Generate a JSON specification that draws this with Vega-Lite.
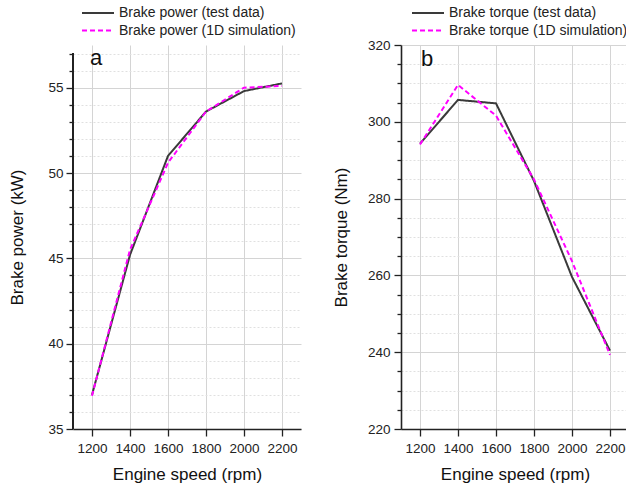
{
  "$schema": "https://vega.github.io/schema/vega-lite/v6.json",
  "padding": {"left": 8, "top": 4, "right": 0, "bottom": 0},
  "spacing": 31,
  "config": {
    "font": "Liberation Sans",
    "view": {"stroke": null},
    "axis": {
      "domainColor": "#222222",
      "domainWidth": 1.6,
      "tickColor": "#222222",
      "tickWidth": 1.3,
      "labelFontSize": 13.5,
      "labelColor": "#222222",
      "titleFontSize": 17,
      "titleFontWeight": "normal",
      "titleColor": "#111111",
      "labelOverlap": false,
      "labelBound": false,
      "labelFlush": false,
      "gridColor": "#d4d4d4",
      "gridWidth": 1,
      "tickCount": 100
    },
    "legend": {
      "labelFontSize": 14,
      "labelColor": "#222222",
      "labelLimit": 400,
      "symbolType": "stroke",
      "symbolStrokeWidth": 2,
      "symbolSize": 1024,
      "rowPadding": 0.5,
      "clipHeight": 17,
      "labelOffset": 4
    }
  },
  "hconcat": [
    {
      "width": 228,
      "height": 384,
      "data": {"values": [
        {"rpm": 1200, "value": 37.0, "series": "Brake power (test data)"},
        {"rpm": 1400, "value": 45.2, "series": "Brake power (test data)"},
        {"rpm": 1600, "value": 51.0, "series": "Brake power (test data)"},
        {"rpm": 1800, "value": 53.6, "series": "Brake power (test data)"},
        {"rpm": 2000, "value": 54.8, "series": "Brake power (test data)"},
        {"rpm": 2200, "value": 55.25, "series": "Brake power (test data)"},
        {"rpm": 1200, "value": 36.95, "series": "Brake power (1D simulation)"},
        {"rpm": 1400, "value": 45.5, "series": "Brake power (1D simulation)"},
        {"rpm": 1600, "value": 50.6, "series": "Brake power (1D simulation)"},
        {"rpm": 1800, "value": 53.6, "series": "Brake power (1D simulation)"},
        {"rpm": 2000, "value": 55.0, "series": "Brake power (1D simulation)"},
        {"rpm": 2200, "value": 55.1, "series": "Brake power (1D simulation)"}
      ]},
      "layer": [
        {
          "mark": {"type": "line", "strokeWidth": 2},
          "encoding": {
            "x": {"field": "rpm", "type": "quantitative",
              "scale": {"domain": [1100, 2300], "nice": false, "zero": false},
              "axis": {"values": [1200, 1400, 1600, 1800, 2000, 2200], "title": "Engine speed (rpm)", "tickSize": 7, "labelPadding": 5, "titlePadding": 12, "format": "d"}},
            "y": {"field": "value", "type": "quantitative",
              "scale": {"domain": [35, 57.5], "nice": false, "zero": false},
              "axis": {
                "values": [35,36,37,38,39,40,41,42,43,44,45,46,47,48,49,50,51,52,53,54,55,56,57],
                "format": "d",
                "domain": false,
                "title": "Brake power (kW)",
                "labelExpr": "datum.value % 5 === 0 ? datum.label : ''",
                "tickSize": {"condition": {"test": "datum.value % 5 === 0", "value": 7}, "value": 4},
                "gridDash": {"condition": {"test": "datum.value % 5 === 0", "value": []}, "value": [2, 2]},
                "gridColor": {"condition": {"test": "datum.value % 5 === 0", "value": "#d4d4d4"}, "value": "#e0e0e0"},
                "labelPadding": 3,
                "titlePadding": 21
              }},
            "color": {"field": "series", "type": "nominal",
              "scale": {"domain": ["Brake power (test data)", "Brake power (1D simulation)"], "range": ["#3a3a3a", "#ff00ff"]},
              "legend": {"title": null, "orient": "none", "legendX": 8, "legendY": -40.5}},
            "strokeDash": {"field": "series", "type": "nominal",
              "scale": {"domain": ["Brake power (test data)", "Brake power (1D simulation)"], "range": [[1, 0], [5, 3]]},
              "legend": {"title": null, "orient": "none", "legendX": 8, "legendY": -40.5}}
          }
        },
        {
          "mark": {"type": "rule", "color": "#222222", "strokeWidth": 1.6},
          "encoding": {
            "x": {"datum": 1100, "type": "quantitative"},
            "y": {"datum": 35, "type": "quantitative"},
            "y2": {"datum": 57}
          }
        },
        {
          "data": {"values": [{"label": "a"}]},
          "mark": {"type": "text", "fontSize": 22, "align": "left", "baseline": "alphabetic", "color": "#111111"},
          "encoding": {
            "x": {"datum": 1190, "type": "quantitative"},
            "y": {"datum": 56.35, "type": "quantitative"},
            "text": {"field": "label"}
          }
        }
      ]
    },
    {
      "width": 228,
      "height": 384,
      "data": {"values": [
        {"rpm": 1200, "value": 294.3, "series": "Brake torque (test data)"},
        {"rpm": 1400, "value": 305.7, "series": "Brake torque (test data)"},
        {"rpm": 1600, "value": 304.8, "series": "Brake torque (test data)"},
        {"rpm": 1800, "value": 284.6, "series": "Brake torque (test data)"},
        {"rpm": 2000, "value": 259.6, "series": "Brake torque (test data)"},
        {"rpm": 2200, "value": 240.4, "series": "Brake torque (test data)"},
        {"rpm": 1200, "value": 294.1, "series": "Brake torque (1D simulation)"},
        {"rpm": 1400, "value": 309.6, "series": "Brake torque (1D simulation)"},
        {"rpm": 1600, "value": 301.6, "series": "Brake torque (1D simulation)"},
        {"rpm": 1800, "value": 285.0, "series": "Brake torque (1D simulation)"},
        {"rpm": 2000, "value": 263.7, "series": "Brake torque (1D simulation)"},
        {"rpm": 2200, "value": 239.3, "series": "Brake torque (1D simulation)"}
      ]},
      "layer": [
        {
          "mark": {"type": "line", "strokeWidth": 2},
          "encoding": {
            "x": {"field": "rpm", "type": "quantitative",
              "scale": {"domain": [1100, 2300], "nice": false, "zero": false},
              "axis": {"values": [1200, 1400, 1600, 1800, 2000, 2200], "title": "Engine speed (rpm)", "tickSize": 7, "labelPadding": 5, "titlePadding": 12, "format": "d"}},
            "y": {"field": "value", "type": "quantitative",
              "scale": {"domain": [220, 320], "nice": false, "zero": false},
              "axis": {
                "values": [220,225,230,235,240,245,250,255,260,265,270,275,280,285,290,295,300,305,310,315,320],
                "format": "d",
                "title": "Brake torque (Nm)",
                "labelExpr": "datum.value % 20 === 0 ? datum.label : ''",
                "tickSize": {"condition": {"test": "datum.value % 20 === 0", "value": 7}, "value": 4},
                "gridDash": {"condition": {"test": "datum.value % 20 === 0", "value": []}, "value": [2, 2]},
                "gridColor": {"condition": {"test": "datum.value % 20 === 0", "value": "#d4d4d4"}, "value": "#e0e0e0"},
                "labelPadding": 4,
                "titlePadding": 17
              }},
            "color": {"field": "series", "type": "nominal",
              "scale": {"domain": ["Brake torque (test data)", "Brake torque (1D simulation)"], "range": ["#3a3a3a", "#ff00ff"]},
              "legend": {"title": null, "orient": "none", "legendX": 10, "legendY": -40.5}},
            "strokeDash": {"field": "series", "type": "nominal",
              "scale": {"domain": ["Brake torque (test data)", "Brake torque (1D simulation)"], "range": [[1, 0], [5, 3]]},
              "legend": {"title": null, "orient": "none", "legendX": 10, "legendY": -40.5}}
          }
        },
        {
          "data": {"values": [{"label": "b"}]},
          "mark": {"type": "text", "fontSize": 22, "align": "left", "baseline": "alphabetic", "color": "#111111"},
          "encoding": {
            "x": {"datum": 1205, "type": "quantitative"},
            "y": {"datum": 314.5, "type": "quantitative"},
            "text": {"field": "label"}
          }
        }
      ]
    }
  ],
  "resolve": {"scale": {"color": "independent", "strokeDash": "independent"}}
}
